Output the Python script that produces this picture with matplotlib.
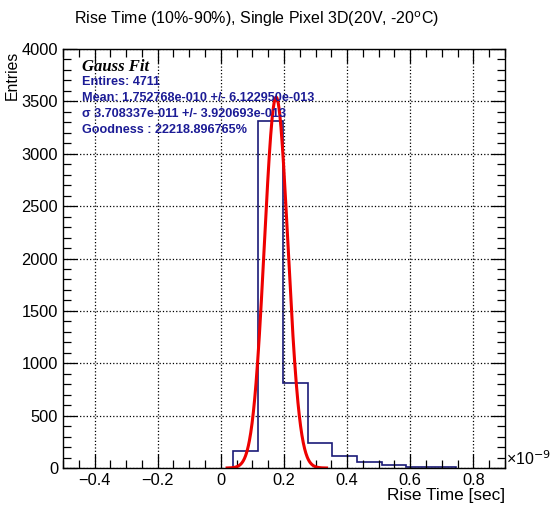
import numpy as np
import matplotlib.pyplot as plt
from matplotlib.ticker import MultipleLocator

# histogram of rise times (units of 1e-9 s)
bin_edges = [0.040, 0.118, 0.197, 0.275, 0.353, 0.432, 0.510, 0.588, 0.666, 0.745]
counts = [165, 3313, 815, 236, 115, 54, 29, 12, 12]

# gauss fit result
fit_amp = 3540
fit_mean = 0.1753
fit_sigma = 0.0371
fit_range = (0.02, 0.335)

stat_lines = [
    "Entires: 4711",
    "Mean: 1.752768e-010 +/- 6.122950e-013",
    "\u03c3 3.708337e-011 +/- 3.920693e-013",
    "Goodness : 22218.896765%",
]

plt.rcParams['font.family'] = ['Liberation Sans', 'DejaVu Sans']

fig = plt.figure(figsize=(5.5, 5.08), dpi=100)
ax = fig.add_axes([0.1145, 0.0787, 0.8035, 0.8248])

# histogram outline, drawn from zero at both ends
ax.stairs(counts, bin_edges, color='#1a1a78', linewidth=1.2, baseline=0)

# gaussian curve
xf = np.linspace(fit_range[0], fit_range[1], 300)
yf = fit_amp * np.exp(-0.5 * ((xf - fit_mean) / fit_sigma) ** 2)
ax.plot(xf, yf, color='#ee0000', linewidth=2.2)

ax.set_xlim(-0.5, 0.9)
ax.set_ylim(0, 4000)
ax.xaxis.set_minor_locator(MultipleLocator(0.05))
ax.yaxis.set_major_locator(MultipleLocator(500))
ax.yaxis.set_minor_locator(MultipleLocator(100))
ax.set_xticks([-0.4, -0.2, 0, 0.2, 0.4, 0.6, 0.8])
ax.set_xticklabels(['\u22120.4', '\u22120.2', '0', '0.2', '0.4', '0.6', '0.8'])
ax.tick_params(which='both', direction='in', top=True, right=True,
               labelsize=11.8, color='black')
ax.tick_params(which='major', length=10, width=0.9)
ax.tick_params(which='minor', length=5.5, width=0.9)
ax.grid(True, which='major', linestyle=':', color='black', linewidth=0.9)
for s in ax.spines.values():
    s.set_linewidth(1.0)

fig.text(0.467, 0.963, "Rise Time (10%-90%), Single Pixel 3D(20V, -20$^{\\mathrm{o}}$C)",
         ha='center', va='center', fontsize=11.5)
ax.set_xlabel("Rise Time [sec]", fontsize=12.4, ha='right', x=1.0, labelpad=0)
ax.set_ylabel("Entries", fontsize=11.3, ha='right', y=0.997, labelpad=1)
ax.text(1.003, 0.0, "\u00d710$^{-9}$", transform=ax.transAxes, fontsize=11.5,
        ha='left', va='bottom')

# fit statistics box text
ax.text(0.043, 0.947, "Gauss Fit", transform=ax.transAxes, family='Liberation Serif',
        fontweight='bold', style='italic', fontsize=12, va='baseline')
for i, line in enumerate(stat_lines):
    ax.text(0.043, 0.914 - i * 0.0385, line, transform=ax.transAxes,
            color='#1c1c96', fontweight='bold', fontsize=9.1, va='baseline')

fig.savefig('out.png', dpi=100)
